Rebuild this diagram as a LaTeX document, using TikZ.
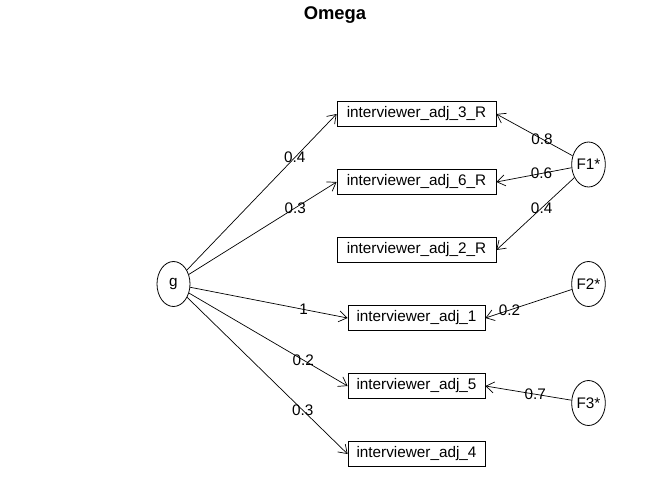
\documentclass[tikz,border=0pt]{standalone}
\usepackage{fontspec}
\setmainfont{Liberation Sans}
\usetikzlibrary{arrows.meta,shapes.geometric}
\begin{document}
\begin{tikzpicture}[x=1pt,y=-1pt,
  every node/.style={font=\fontsize{15.3}{18}\selectfont},
  var/.style={draw, line width=0.8pt, rectangle, minimum height=25.5pt, inner sep=0pt},
  longvar/.style={var, minimum width=159pt},
  shortvar/.style={var, minimum width=137pt},
  factor/.style={draw, ellipse, line width=0.8pt, minimum width=33pt, minimum height=45pt, inner sep=0pt},
  load/.style={->, line width=0.7pt, >={Straight Barb[length=8pt,width=11pt]}},
  lbl/.style={font=\fontsize{15.3}{18}\selectfont, inner sep=0pt}]
\useasboundingbox (0,0) rectangle (672,480);

% title
\node[font=\bfseries\fontsize{18.4}{20}\selectfont] (title) at (335,15) {Omega};

% observed variables
\node[longvar]  (v3) at (416.5,114) {interviewer\_adj\_3\_R};
\node[longvar]  (v6) at (416.5,182) {interviewer\_adj\_6\_R};
\node[longvar]  (v2) at (416.5,250) {interviewer\_adj\_2\_R};
\node[shortvar] (v1) at (416.5,318) {interviewer\_adj\_1};
\node[shortvar] (v5) at (416.5,386) {interviewer\_adj\_5};
\node[shortvar] (v4) at (416.5,454) {interviewer\_adj\_4};

% general and group factors
\node[factor] (g)  at (173.5,284) {g};
\node[factor] (f1) at (588.5,164.5) {F1*};
\node[factor] (f2) at (588.5,284) {F2*};
\node[factor] (f3) at (588.5,403) {F3*};

% general factor loadings
\draw[load] (g) -- node[lbl,pos=0.72] (l3) {0.4} (v3.west);
\draw[load] (g) -- node[lbl,pos=0.72] (l6) {0.3} (v6.west);
\draw[load] (g) -- node[lbl,pos=0.72] (l1) {1} (v1.west);
\draw[load] (g) -- node[lbl,pos=0.72] (l5) {0.2} (v5.west);
\draw[load] (g) -- node[lbl,pos=0.72] (l4) {0.3} (v4.west);

% group factor loadings
\draw[load] (f1) -- node[lbl,pos=0.40] (m3) {0.8} (v3.east);
\draw[load] (f1) -- node[lbl,pos=0.40] (m6) {0.6} (v6.east);
\draw[load] (f1) -- node[lbl,pos=0.42] (m2) {0.4} (v2.east);
\draw[load] (f2) -- node[lbl,pos=0.72] (m1) {0.2} (v1.east);
\draw[load] (f3) -- node[lbl,pos=0.42] (m5) {0.7} (v5.east);
\end{tikzpicture}
\end{document}
